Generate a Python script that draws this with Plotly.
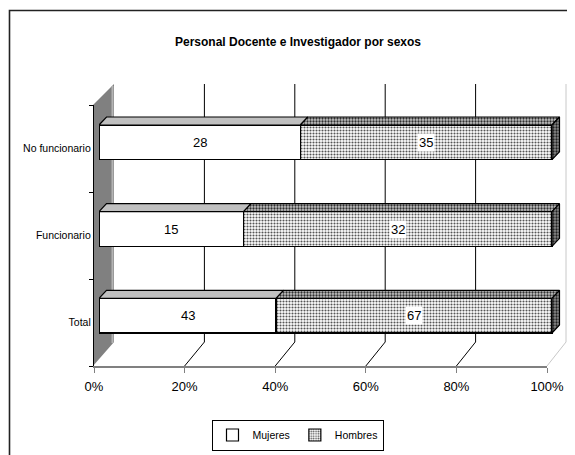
import plotly.graph_objects as go

# ---------------- data ----------------
categories = ["Total", "Funcionario", "No funcionario"]
mujeres = [43, 15, 28]
hombres = [67, 32, 35]
series_names = ["Mujeres", "Hombres"]
x_ticks = [0, 20, 40, 60, 80, 100]
x_tick_labels = ["0%", "20%", "40%", "60%", "80%", "100%"]
title_text = "Personal Docente e Investigador por sexos"

# ---------------- geometry / style ----------------
PAGE_W, PAGE_H = 575, 455
OFF = 8                     # default body margin of the html page
FW, FH = PAGE_W - OFF, PAGE_H - OFF
FONT = "Liberation Sans, Arial, sans-serif"

# bar (front-face) axes in page pixels
BX0, PXU = 99.0, 4.53           # pixel of 0 %, pixels per %
XMAX = 103.0
BY_BOTTOM, BY_TOP = 359.0, 99.0   # pixel of -0.5 and 2.5 band edges
BAND = (BY_BOTTOM - BY_TOP) / 3.0
BAR_W = 0.40
DXP, DYP = 7.5, 8.0              # bar depth offset in pixels
dx = DXP / PXU
dy = DYP / BAND

# front plane of the 3D box
FX0, FX1, FY_FLOOR, FY_TOP = 94.0, 547.0, 366.0, 105.0
BACK_X0, BACK_X1, BACK_FLOOR, BACK_TOP = 114.0, 566.0, 342.0, 84.0


def px(x):
    return (x - OFF) / FW


def py(y):
    return 1 - (y - OFF) / FH


fig = go.Figure()

ypos = list(range(len(categories)))
pat_front = dict(shape=".", bgcolor="white", fgcolor="#555555", size=3, solidity=0.4, fillmode="replace")
pat_top = dict(shape=".", bgcolor="#c4c4c4", fgcolor="#303030", size=3, solidity=0.45, fillmode="replace")
pat_side = dict(shape=".", bgcolor="#8a8a8a", fgcolor="#202020", size=3, solidity=0.45, fillmode="replace")

fig.add_trace(go.Bar(
    name=series_names[0], y=ypos, x=mujeres, orientation="h", width=BAR_W,
    marker=dict(color="white", line=dict(color="black", width=1.2)),
    hoverinfo="skip",
))
fig.add_trace(go.Bar(
    name=series_names[1], y=ypos, x=hombres, orientation="h", width=BAR_W,
    marker=dict(color="white", pattern=pat_front, line=dict(color="black", width=1.2)),
    hoverinfo="skip",
))

annotations = []
for i, (m, h) in enumerate(zip(mujeres, hombres)):
    tot = m + h
    pm = 100.0 * m / tot
    top = i + BAR_W / 2
    bot = i - BAR_W / 2
    # top face of Mujeres
    fig.add_trace(go.Scatter(
        x=[0, pm, pm + dx, dx, 0], y=[top, top, top + dy, top + dy, top],
        mode="lines", fill="toself", fillcolor="#c0c0c0",
        line=dict(color="black", width=1.2), showlegend=False, hoverinfo="skip",
    ))
    # top face of Hombres
    fig.add_trace(go.Scatter(
        x=[pm, 100, 100 + dx, pm + dx, pm], y=[top, top, top + dy, top + dy, top],
        mode="lines", fill="toself", fillcolor="#c4c4c4", fillpattern=pat_top,
        line=dict(color="black", width=1.2), showlegend=False, hoverinfo="skip",
    ))
    # right side face
    fig.add_trace(go.Scatter(
        x=[100, 100, 100 + dx, 100 + dx, 100], y=[bot, top, top + dy, bot + dy, bot],
        mode="lines", fill="toself", fillcolor="#8a8a8a", fillpattern=pat_side,
        line=dict(color="black", width=1.2), showlegend=False, hoverinfo="skip",
    ))
    annotations.append(dict(
        x=pm / 2, y=i, xref="x", yref="y", text=str(m), showarrow=False,
        font=dict(family=FONT, size=13, color="black"),
    ))
    annotations.append(dict(
        x=pm + (100 - pm) / 2, y=i, xref="x", yref="y", text=str(h), showarrow=False,
        font=dict(family=FONT, size=13, color="black"), bgcolor="white", borderpad=1,
    ))

# invisible trace for the front-plane axes
fig.add_trace(go.Scatter(x=[None], y=[None], xaxis="x2", yaxis="y2",
                         showlegend=False, hoverinfo="skip"))

# ---------------- chrome shapes ----------------
shapes = []
# outer border
shapes.append(dict(type="rect", xref="paper", yref="paper", x0=px(9.5), y0=py(480), x1=px(590), y1=py(10.5),
                   line=dict(color="#222222", width=1.6), layer="below"))
# back wall grid lines and floor diagonals
for k in range(1, 6):
    bx = BACK_X0 + k * (BACK_X1 - BACK_X0) / 5
    fx = FX0 + k * (FX1 - FX0) / 5
    col = "black" if k < 5 else "#c8c8c8"
    shapes.append(dict(type="line", xref="paper", yref="paper", x0=px(bx), y0=py(BACK_FLOOR), x1=px(bx), y1=py(BACK_TOP),
                       line=dict(color=col, width=1), layer="below"))
    shapes.append(dict(type="line", xref="paper", yref="paper", x0=px(fx), y0=py(FY_FLOOR), x1=px(bx), y1=py(BACK_FLOOR),
                       line=dict(color=col, width=1), layer="below"))
# left wall
path = "M {} {} L {} {} L {} {} L {} {} Z".format(
    px(FX0 - 1), py(FY_TOP), px(BACK_X0), py(BACK_TOP), px(BACK_X0), py(BACK_FLOOR), px(FX0 - 1), py(FY_FLOOR))
shapes.append(dict(type="path", xref="paper", yref="paper", path=path, fillcolor="#808080",
                   line=dict(width=0), layer="below"))
shapes.append(dict(type="line", xref="paper", yref="paper", x0=px(BACK_X0 - 1.5), y0=py(BACK_FLOOR + 1), x1=px(BACK_X0 - 1.5), y1=py(BACK_TOP + 2),
                   line=dict(color="#b4b4b4", width=2), layer="below"))

fig.update_layout(
    width=FW, height=FH,
    margin=dict(l=0, r=0, t=0, b=0, autoexpand=False),
    paper_bgcolor="white", plot_bgcolor="rgba(0,0,0,0)",
    barmode="stack", barnorm="percent",
    title=dict(text="<b>" + title_text + "</b>", x=px(298), xanchor="center", y=py(42), yanchor="middle",
               font=dict(family=FONT, size=12, color="black")),
    xaxis=dict(domain=[px(BX0), px(BX0 + XMAX * PXU)], range=[0, XMAX], visible=False, fixedrange=True),
    yaxis=dict(domain=[py(BY_BOTTOM), py(BY_TOP)], range=[-0.5, 2.5], visible=False, fixedrange=True),
    xaxis2=dict(domain=[px(FX0), px(FX1)], range=[0, 100], anchor="y2", automargin=False,
                tickvals=x_ticks, ticktext=x_tick_labels, ticks="outside", ticklen=5,
                tickcolor="#808080", showline=True, linecolor="#808080", linewidth=1.5,
                showgrid=False, zeroline=False, ticklabelstandoff=3,
                tickfont=dict(family=FONT, size=13, color="black")),
    yaxis2=dict(domain=[py(FY_FLOOR), py(FY_TOP)], range=[-0.5, 2.5], anchor="x2", automargin=False,
                tickvals=ypos, ticktext=categories, ticks="", showline=True, linecolor="black",
                linewidth=1.2, showgrid=False, zeroline=False,
                minor=dict(tickvals=[-0.5, 0.5, 1.5, 2.5], ticks="outside", ticklen=4, tickcolor="black"),
                tickfont=dict(family=FONT, size=10.5, color="black")),
    legend=dict(orientation="h", x=px(297.5), xanchor="center", y=py(435), yanchor="middle",
                bordercolor="black", borderwidth=1, bgcolor="white",
                font=dict(family=FONT, size=10.5, color="black"), itemwidth=30,
                traceorder="normal"),
    shapes=shapes,
    annotations=annotations,
    showlegend=True,
)

fig.write_html("out.html")
